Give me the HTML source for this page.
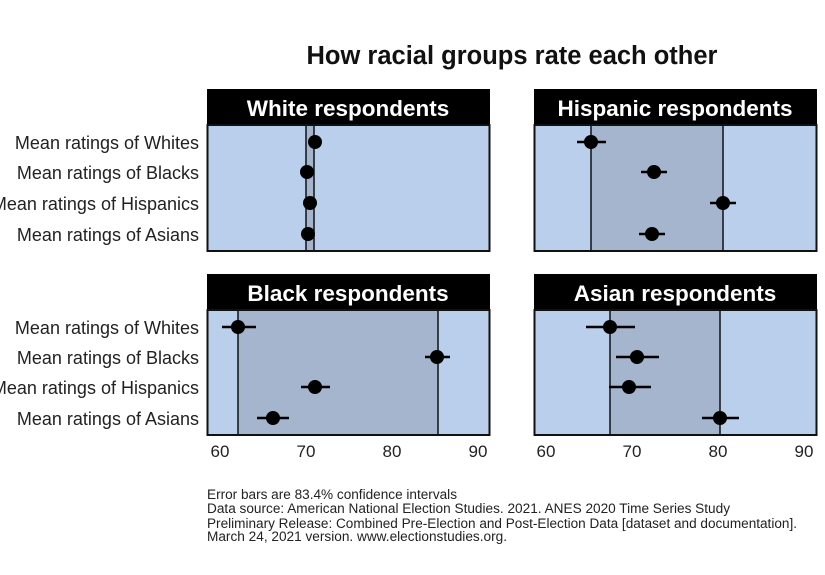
<!DOCTYPE html>
<html><head><meta charset="utf-8"><style>
html,body{margin:0;padding:0;background:#fff;}
svg{display:block;font-family:"Liberation Sans",Arial,sans-serif;}
</style></head><body>
<svg width="825" height="575" viewBox="0 0 825 575" xmlns="http://www.w3.org/2000/svg">
<rect width="825" height="575" fill="#fff"/>
<text x="512" y="64" text-anchor="middle" font-size="25.5" font-weight="bold" fill="#111">How racial groups rate each other</text>

<!-- labels -->
<g font-size="18" fill="#222" text-anchor="end">
<text x="199" y="149">Mean ratings of Whites</text>
<text x="199" y="179">Mean ratings of Blacks</text>
<text x="199" y="210">Mean ratings of Hispanics</text>
<text x="199" y="241">Mean ratings of Asians</text>
<text x="199" y="334">Mean ratings of Whites</text>
<text x="199" y="364">Mean ratings of Blacks</text>
<text x="199" y="394">Mean ratings of Hispanics</text>
<text x="199" y="425">Mean ratings of Asians</text>
</g>

<!-- Panel: White -->
<g>
<rect x="207" y="89" width="283" height="36" fill="#000"/>
<text x="348" y="116" text-anchor="middle" font-size="22.5" font-weight="bold" fill="#fff">White respondents</text>
<rect x="207.5" y="125" width="282" height="126" fill="#b9cfec" stroke="#111" stroke-width="2"/>
<rect x="306" y="126" width="8" height="124" fill="#a4b5cd"/>
<line x1="306" y1="126" x2="306" y2="250" stroke="#111" stroke-width="1.5"/>
<line x1="314" y1="126" x2="314" y2="250" stroke="#111" stroke-width="1.5"/>
<g fill="#000">
<circle cx="315" cy="142" r="7"/><circle cx="307" cy="172" r="7"/><circle cx="310" cy="203" r="7"/><circle cx="308" cy="234" r="7"/>
</g>
</g>

<!-- Panel: Hispanic -->
<g>
<rect x="534" y="89" width="283" height="36" fill="#000"/>
<text x="675" y="116" text-anchor="middle" font-size="22.5" font-weight="bold" fill="#fff">Hispanic respondents</text>
<rect x="534.5" y="125" width="282" height="126" fill="#b9cfec" stroke="#111" stroke-width="2"/>
<rect x="591" y="126" width="132" height="124" fill="#a4b5cd"/>
<line x1="591" y1="126" x2="591" y2="250" stroke="#111" stroke-width="1.5"/>
<line x1="723" y1="126" x2="723" y2="250" stroke="#111" stroke-width="1.5"/>
<g stroke="#000" stroke-width="2.5">
<line x1="577" y1="142" x2="606" y2="142"/><line x1="641" y1="172" x2="667" y2="172"/>
<line x1="710" y1="203" x2="736" y2="203"/><line x1="639" y1="234" x2="665" y2="234"/>
</g>
<g fill="#000">
<circle cx="591" cy="142" r="7"/><circle cx="654" cy="172" r="7"/><circle cx="723" cy="203" r="7"/><circle cx="652" cy="234" r="7"/>
</g>
</g>

<!-- Panel: Black -->
<g>
<rect x="207" y="274" width="283" height="36" fill="#000"/>
<text x="348" y="301" text-anchor="middle" font-size="22.5" font-weight="bold" fill="#fff">Black respondents</text>
<rect x="207.5" y="310" width="282" height="125" fill="#b9cfec" stroke="#111" stroke-width="2"/>
<rect x="238" y="311" width="200" height="123" fill="#a4b5cd"/>
<line x1="238" y1="311" x2="238" y2="434" stroke="#111" stroke-width="1.5"/>
<line x1="438" y1="311" x2="438" y2="434" stroke="#111" stroke-width="1.5"/>
<g stroke="#000" stroke-width="2.5">
<line x1="222" y1="327" x2="256" y2="327"/><line x1="425" y1="357" x2="450" y2="357"/>
<line x1="301" y1="387" x2="330" y2="387"/><line x1="257" y1="418" x2="289" y2="418"/>
</g>
<g fill="#000">
<circle cx="238" cy="327" r="7"/><circle cx="437" cy="357" r="7"/><circle cx="315" cy="387" r="7"/><circle cx="273" cy="418" r="7"/>
</g>
</g>

<!-- Panel: Asian -->
<g>
<rect x="534" y="274" width="283" height="36" fill="#000"/>
<text x="675" y="301" text-anchor="middle" font-size="22.5" font-weight="bold" fill="#fff">Asian respondents</text>
<rect x="534.5" y="310" width="282" height="125" fill="#b9cfec" stroke="#111" stroke-width="2"/>
<rect x="610" y="311" width="110" height="123" fill="#a4b5cd"/>
<line x1="610" y1="311" x2="610" y2="434" stroke="#111" stroke-width="1.5"/>
<line x1="720" y1="311" x2="720" y2="434" stroke="#111" stroke-width="1.5"/>
<g stroke="#000" stroke-width="2.5">
<line x1="586" y1="327" x2="635" y2="327"/><line x1="616" y1="357" x2="659" y2="357"/>
<line x1="609" y1="387" x2="651" y2="387"/><line x1="702" y1="418" x2="739" y2="418"/>
</g>
<g fill="#000">
<circle cx="610" cy="327" r="7"/><circle cx="637" cy="357" r="7"/><circle cx="629" cy="387" r="7"/><circle cx="720" cy="418" r="7"/>
</g>
</g>

<!-- ticks -->
<g font-size="17" fill="#222" text-anchor="middle">
<text x="220" y="457">60</text><text x="306" y="457">70</text><text x="392" y="457">80</text><text x="478" y="457">90</text>
<text x="546" y="457">60</text><text x="632" y="457">70</text><text x="718" y="457">80</text><text x="804" y="457">90</text>
</g>

<g font-size="13.5" fill="#222">
<text x="207" y="499" textLength="250" lengthAdjust="spacingAndGlyphs">Error bars are 83.4% confidence intervals</text>
<text x="207" y="513" textLength="523" lengthAdjust="spacingAndGlyphs">Data source: American National Election Studies. 2021. ANES 2020 Time Series Study</text>
<text x="207" y="528" textLength="590" lengthAdjust="spacingAndGlyphs">Preliminary Release: Combined Pre-Election and Post-Election Data [dataset and documentation].</text>
<text x="207" y="541" textLength="300" lengthAdjust="spacingAndGlyphs">March 24, 2021 version. www.electionstudies.org.</text>
</g>
</svg>
</body></html>
